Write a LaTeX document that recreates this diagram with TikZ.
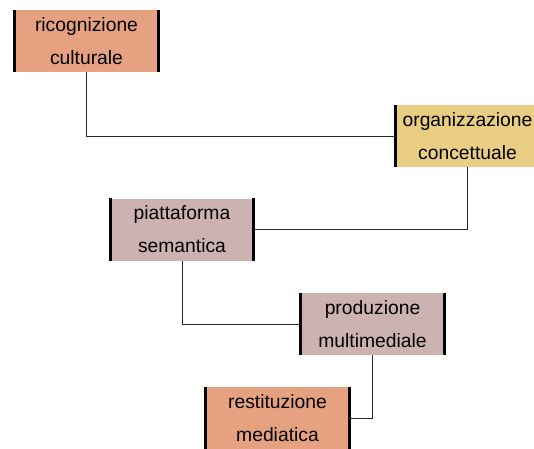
\documentclass[tikz,border=0pt]{standalone}
\usepackage{fontspec}
\setmainfont{Liberation Sans}
\definecolor{salmone}{RGB}{229,161,128}
\definecolor{ocra}{RGB}{232,205,130}
\definecolor{malva}{RGB}{205,178,178}
\definecolor{linea}{RGB}{40,40,40}
\tikzset{
	fase/.style={rectangle, minimum width=143pt, minimum height=62pt, inner sep=0pt,
		align=center, font=\fontsize{19.3}{33}\selectfont},
	bordo/.style={line width=3pt, black},
	filo/.style={draw=linea, line width=1pt}
}
\begin{document}
\begin{tikzpicture}[x=1pt, y=-1pt]
			\useasboundingbox (0,0) rectangle (534,448);
			\clip (0,0) rectangle (534,448);
			\fill[white] (0,0) rectangle (534,448);
			\node[fase, fill=salmone] (ric) at (86.5,41) {ricognizione\\culturale};
			\node[fase, fill=ocra] (org) at (467.5,136) {organizzazione\\concettuale};
			\node[fase, fill=malva] (pia) at (182,229.5) {piattaforma\\semantica};
			\node[fase, fill=malva] (pro) at (372.5,324) {produzione\\multimediale};
			\node[fase, fill=salmone] (res) at (277.5,418) {restituzione\\mediatica};
			\foreach \n in {ric, org, pia, pro, res} {
					\draw[bordo] (\n.north west) -- (\n.south west);
					\draw[bordo] (\n.north east) -- (\n.south east);
				}
			\draw[filo] (ric.south) |- (org.west);
			\draw[filo] (org.south) |- (pia.east);
			\draw[filo] (pia.south) |- (pro.west);
			\draw[filo] (pro.south) |- (res.east);
		\end{tikzpicture}
\end{document}
